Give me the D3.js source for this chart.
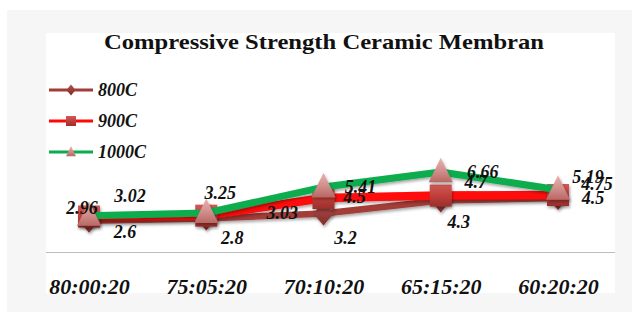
<!DOCTYPE html>
<html>
<head>
<meta charset="utf-8">
<script src="https://cdn.jsdelivr.net/npm/d3@7/dist/d3.min.js"></script>
<style>
  html, body { margin: 0; padding: 0; background: #fff; }
  svg { display: block; }
</style>
</head>
<body>
<svg id="chart" width="632" height="320"></svg>
<script>
// Mix ratios along the x axis
const categories = ["80:00:20", "75:05:20", "70:10:20", "65:15:20", "60:20:20"];
const seriesNames = ["800C", "900C", "1000C"];
// Compressive strength per firing temperature
const values800 = [2.6, 2.8, 3.2, 4.3, 4.5];
const values900 = [2.96, 3.03, 4.5, 4.7, 4.75];
const values1000 = [3.02, 3.25, 5.41, 6.66, 5.19];

// Layout: data-label nudges (dx, dy) per series, per point
const labelNudge = [
  [[36, 11], [26, 19], [22, 24], [18, 21], [35, 0]],
  [[-7, -9], [76, -3], [31, -1], [35, -14], [39, -11]],
  [[41, -20], [14, -20], [37, 0], [42, 0], [30, -13]]
];

const svg = d3.select("#chart");
const W = 632;

const defs = svg.append("defs");
const shadow = defs.append("filter").attr("id", "shadow")
  .attr("x", "-50%").attr("y", "-50%").attr("width", "200%").attr("height", "200%");
shadow.append("feDropShadow").attr("dx", 1).attr("dy", 2).attr("stdDeviation", 1.6)
  .attr("flood-color", "#000").attr("flood-opacity", 0.35);

function grad(id, stops) {
  const g = defs.append("linearGradient").attr("id", id)
    .attr("x1", 0).attr("y1", 0).attr("x2", 0).attr("y2", 1);
  stops.forEach(([o, c]) => g.append("stop").attr("offset", o).attr("stop-color", c));
}
grad("gDiamond", [[0, "#b5524f"], [1, "#7e2a28"]]);
grad("gSquare", [[0, "#d05a56"], [0.5, "#bf3f3b"], [1, "#9a2e2b"]]);
grad("gTri", [[0, "#e7b4b2"], [0.55, "#d08e8b"], [1, "#b96764"]]);

// Backgrounds: light grey frame and white chart area
svg.append("rect").attr("x", 7).attr("y", 10).attr("width", W - 7).attr("height", 302).attr("fill", "#f6f6f6");
svg.append("rect").attr("x", 46).attr("y", 33).attr("width", 569).attr("height", 260).attr("fill", "#ffffff");

const x = d3.scalePoint().domain(categories).range([89, 558]);
const y = d3.scaleLinear().domain([0, 8]).range([252, 156]);

// Category axis
const xAxis = d3.axisBottom(x).tickSize(0).tickPadding(0);
const axisG = svg.append("g").attr("transform", "translate(0,252)").call(xAxis);
axisG.select(".domain").remove();
axisG.selectAll("text")
  .attr("dy", "42px")
  .attr("font-family", "'Liberation Serif', 'Times New Roman', serif")
  .attr("font-size", 22).attr("font-weight", "bold").attr("font-style", "italic")
  .attr("fill", "#111");
svg.append("line").attr("x1", 46).attr("x2", 615).attr("y1", 252.5).attr("y2", 252.5)
  .attr("stroke", "#bdbdbd").attr("stroke-width", 1.2);

// Title
svg.append("text").attr("x", 324).attr("y", 49).attr("text-anchor", "middle")
  .attr("font-family", "'Liberation Serif', 'Times New Roman', serif")
  .attr("font-size", 21).attr("font-weight", "bold").attr("fill", "#111")
  .attr("textLength", 440).attr("lengthAdjust", "spacingAndGlyphs")
  .text("Compressive Strength Ceramic Membran");

const series = [
  { name: seriesNames[0], values: values800, color: "#a33c39", width: 6.5, marker: "diamond" },
  { name: seriesNames[1], values: values900, color: "#ff0808", width: 8.5, marker: "square" },
  { name: seriesNames[2], values: values1000, color: "#0aac4e", width: 7, marker: "triangle" }
];

function drawMarker(g, type, cx, cy, s) {
  if (type === "diamond") {
    g.append("path").attr("d", `M${cx},${cy - s * 0.6}L${cx + s * 0.5},${cy}L${cx},${cy + s * 0.6}L${cx - s * 0.5},${cy}Z`)
      .attr("fill", "url(#gDiamond)");
  } else if (type === "square") {
    g.append("rect").attr("x", cx - s / 2).attr("y", cy - s / 2).attr("width", s).attr("height", s)
      .attr("fill", "url(#gSquare)");
  } else {
    g.append("path").attr("d", `M${cx},${cy - s * 0.6}L${cx + s * 0.5},${cy + s * 0.42}L${cx - s * 0.5},${cy + s * 0.42}Z`)
      .attr("fill", "url(#gTri)");
  }
}

const markerSize = { diamond: 20, square: 22, triangle: 24 };

const line = d3.line().x((d, i) => x(categories[i])).y(d => y(d));

series.forEach((s) => {
  const g = svg.append("g");
  g.append("path").datum(s.values).attr("d", line)
    .attr("fill", "none").attr("stroke", s.color).attr("stroke-width", s.width)
    .attr("stroke-linejoin", "round").attr("filter", "url(#shadow)");
  const mg = g.append("g").attr("filter", "url(#shadow)");
  s.values.forEach((v, i) => drawMarker(mg, s.marker, x(categories[i]), y(v), markerSize[s.marker]));
});

// Data labels, drawn after all series
series.forEach((s, si) => {
  svg.append("g").selectAll("text").data(s.values).join("text")
    .attr("x", (d, i) => x(categories[i]) + labelNudge[si][i][0])
    .attr("y", (d, i) => y(d) + labelNudge[si][i][1])
    .attr("dy", "0.35em").attr("text-anchor", "middle")
    .attr("font-family", "'Liberation Serif', 'Times New Roman', serif")
    .attr("font-size", 18).attr("font-weight", "bold").attr("font-style", "italic")
    .attr("fill", "#111")
    .text(d => d);
});

// Legend
const legend = svg.append("g");
series.forEach((s, i) => {
  const ly = 90 + i * 31;
  legend.append("line").attr("x1", 49).attr("x2", 93).attr("y1", ly).attr("y2", ly)
    .attr("stroke", s.color).attr("stroke-width", 3);
  drawMarker(legend, s.marker, 71, ly, s.marker === "diamond" ? 9 : 10);
  legend.append("text").attr("x", 98).attr("y", ly).attr("dy", "0.35em")
    .attr("font-family", "'Liberation Serif', 'Times New Roman', serif")
    .attr("font-size", 18).attr("font-weight", "bold").attr("font-style", "italic")
    .attr("fill", "#111").text(s.name);
});
</script>
</body>
</html>
